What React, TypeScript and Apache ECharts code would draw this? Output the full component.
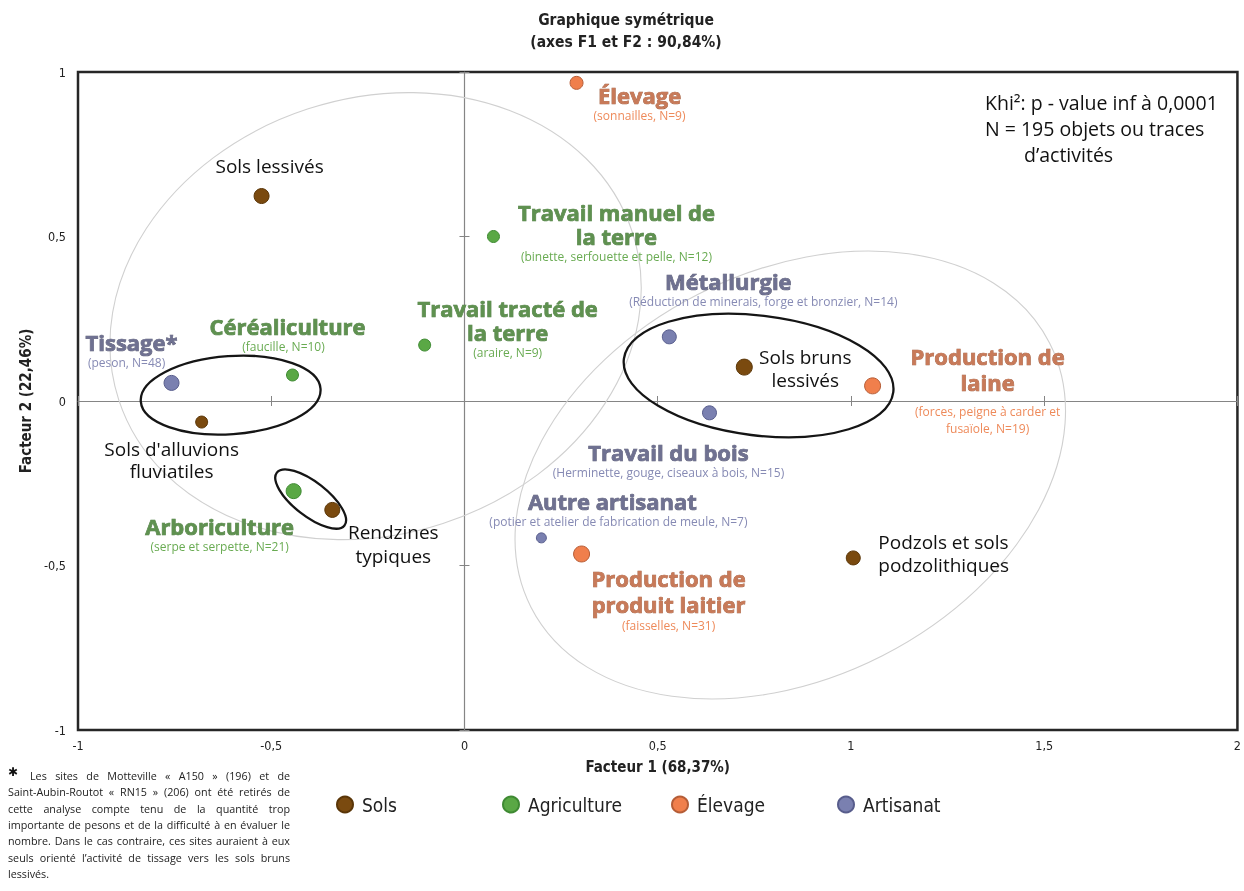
import React, { useEffect, useRef } from 'react';
import * as echarts from 'echarts';

// ---------- DATA ----------
const groupNames = ['Sols', 'Agriculture', 'Élevage', 'Artisanat'];

const solsNames = ['Sols lessivés', "Sols d'alluvions\nfluviatiles", 'Rendzines\ntypiques', 'Sols bruns\nlessivés', 'Podzols et sols\npodzolithiques'];
const solsF1 = [-0.525, -0.68, -0.342, 0.724, 1.006];
const solsF2 = [0.623, -0.064, -0.331, 0.103, -0.477];

const agriNames = ['Céréaliculture', 'Arboriculture', 'Travail tracté de\nla terre', 'Travail manuel de\nla terre'];
const agriDetails = ['(faucille, N=10)', '(serpe et serpette, N=21)', '(araire, N=9)', '(binette, serfouette et pelle, N=12)'];
const agriF1 = [-0.445, -0.442, -0.103, 0.075];
const agriF2 = [0.079, -0.274, 0.17, 0.5];

const elevNames = ['Élevage', 'Production de\nlaine', 'Production de\nproduit laitier'];
const elevDetails = ['(sonnailles, N=9)', '(forces, peigne à carder et\nfusaïole, N=19)', '(faisselles, N=31)'];
const elevF1 = [0.29, 1.056, 0.303];
const elevF2 = [0.967, 0.046, -0.465];

const artiNames = ['Tissage*', 'Métallurgie', 'Travail du bois', 'Autre artisanat'];
const artiDetails = ['(peson, N=48)', '(Réduction de minerais, forge et bronzier, N=14)', '(Herminette, gouge, ciseaux à bois, N=15)', '(potier et atelier de fabrication de meule, N=7)'];
const artiF1 = [-0.758, 0.53, 0.634, 0.199];
const artiF2 = [0.055, 0.195, -0.036, -0.416];

// ellipses (centre in F1/F2, semi-axes in F1 units, rotation in degrees)
const ellipseF1 = [-0.23, 0.843, -0.605, -0.398, 0.761];
const ellipseF2 = [0.258, -0.225, 0.018, -0.298, 0.0775];
const ellipseA = [0.699, 0.753, 0.233, 0.111, 0.351];
const ellipseB = [0.564, 0.525, 0.101, 0.044, 0.155];
const ellipseRot = [18, 27, 4, -38, -7];
const ellipseKind = ['zone', 'zone', 'groupe', 'groupe', 'groupe'];

const titleLines = ['Graphique symétrique', '(axes F1 et F2 : 90,84%)'];
const noteLines = ['Khi²: p - value inf à 0,0001', 'N = 195 objets ou traces', 'd’activités'];
const footnoteLines = [
  'Les sites de Motteville « A150 » (196) et de',
  'Saint-Aubin-Routot « RN15 » (206) ont été retirés de',
  'cette analyse compte tenu de la quantité trop',
  'importante de pesons et de la difficulté à en évaluer le',
  'nombre. Dans le cas contraire, ces sites auraient à eux',
  'seuls orienté l’activité de tissage vers les sols bruns',
  'lessivés.',
];
const xAxisName = 'Facteur 1 (68,37%)';
const yAxisName = 'Facteur 2 (22,46%)';

// ---------- STYLES ----------
const COND = "'Liberation Sans Narrow','DejaVu Sans Condensed','Open Sans',sans-serif";
const SANS = "'Open Sans',sans-serif";

const groupStyle: Record<string, any> = {
  Sols: { color: '#7a4a0f', border: '#5a3608' },
  Agriculture: { color: '#5aa845', border: '#3f8a33', title: '#5f9150', titleBorder: '#4b7a3e', sub: '#69ab52' },
  'Élevage': { color: '#f07f4c', border: '#b55d37', title: '#c87a59', titleBorder: '#9c5839', sub: '#ee8a5a' },
  Artisanat: { color: '#7a80b0', border: '#585d8c', title: '#6f7191', titleBorder: '#56576f', sub: '#868ab4' },
};

const markerSize: Record<string, number> = {
  'Sols lessivés': 15, "Sols d'alluvions\nfluviatiles": 12, 'Rendzines\ntypiques': 15, 'Sols bruns\nlessivés': 16, 'Podzols et sols\npodzolithiques': 14,
  'Céréaliculture': 12, 'Arboriculture': 15, 'Travail tracté de\nla terre': 12, 'Travail manuel de\nla terre': 12,
  'Élevage': 13, 'Production de\nlaine': 16, 'Production de\nproduit laitier': 16,
  'Tissage*': 15, 'Métallurgie': 14, 'Travail du bois': 14, 'Autre artisanat': 10,
};

// label block placement: offset from marker centre to block (top, centre) in px
const place: Record<string, any> = {
  'Sols lessivés': { dx: 8, dy: -42 },
  "Sols d'alluvions\nfluviatiles": { dx: -30, dy: 16, lh: 22 },
  'Rendzines\ntypiques': { dx: 61, dy: 10, lh: 24 },
  'Sols bruns\nlessivés': { dx: 61, dy: -22 },
  'Podzols et sols\npodzolithiques': { dx: 25, dy: -27, align: 'left' },
  'Céréaliculture': { dx: -5, dy: -61, subPad: 8 },
  'Arboriculture': { dx: -74, dy: 23 },
  'Travail tracté de\nla terre': { dx: 83, dy: -49 },
  'Travail manuel de\nla terre': { dx: 123, dy: -37 },
  'Élevage': { dx: 63, dy: 0 },
  'Production de\nlaine': { dx: 115, dy: -43, tlh: 26, gap: 8 },
  'Production de\nproduit laitier': { dx: 87, dy: 11, tlh: 26 },
  'Tissage*': { dx: -40, dy: -53, subPad: 10 },
  'Métallurgie': { dx: 94, dy: -68, titlePad: 70 },
  'Travail du bois': { dx: -41, dy: 27 },
  'Autre artisanat': { dx: 77, dy: -49, titlePad: 12 },
};

function makeLabel(name: string, detail: string | null, group: string) {
  const p = place[name];
  const g = groupStyle[group];
  const base = {
    show: true,
    position: 'inside',
    offset: [p.dx, p.dy],
    align: p.align || 'center',
    verticalAlign: 'top',
  };
  if (detail === null) {
    return {
      ...base,
      formatter: name.split('\n').map((l) => `{b|${l}}`).join('\n'),
      rich: { b: { fontFamily: SANS, fontSize: 19, color: '#111', lineHeight: p.lh || 23 } },
    };
  }
  const lines = name.split('\n').map((l) => `{t|${l}}`);
  if (p.gap) lines.push('{g| }');
  detail.split('\n').forEach((l) => lines.push(`{s|${l}}`));
  return {
    ...base,
    formatter: lines.join('\n'),
    rich: {
      t: {
        fontFamily: SANS, fontWeight: 'bold', fontSize: 22, color: g.title,
        textBorderColor: g.titleBorder, textBorderWidth: 0.7, lineHeight: p.tlh || 24,
        padding: [0, p.titlePad || 0, 0, 0],
      },
      s: { fontFamily: SANS, fontSize: 12, color: g.sub, lineHeight: 17, padding: [0, p.subPad || 0, 0, 0] },
      g: { fontSize: 1, lineHeight: p.gap || 0 },
    },
  };
}

function scatterSeries(group: string, names: string[], f1: number[], f2: number[], details: string[] | null) {
  const g = groupStyle[group];
  return {
    type: 'scatter',
    name: group,
    z: 4,
    itemStyle: { color: g.color, borderColor: g.border, borderWidth: 1, opacity: 1 },
    emphasis: { disabled: true },
    data: names.map((n, i) => ({
      name: n,
      value: [f1[i], f2[i]],
      symbolSize: markerSize[n],
      label: makeLabel(n, details ? details[i] : null, group),
    })),
  };
}

const fmt = (v: number) => String(v).replace('.', ',');

export default function App() {
  const ref = useRef<HTMLDivElement>(null);
  useEffect(() => {
    const el = ref.current!;
    const chart = echarts.init(el, null, { renderer: 'svg' });

    // footnote, justified
    const ctx = document.createElement('canvas').getContext('2d')!;
    const x0 = 8, x1 = 290, firstIndent = 22;
    let fs = 12;
    const widthOf = (s: string) => { ctx.font = `${fs}px "Open Sans"`; return ctx.measureText(s).width; };
    for (let k = 0; k < 20; k++) {
      const over = footnoteLines.slice(0, 6).some((l, i) => widthOf(l) > (x1 - (i === 0 ? x0 + firstIndent : x0)) - 6);
      if (!over) break;
      fs -= 0.25;
    }
    const footEls: any[] = [];
    const fStyle = { fontFamily: 'Open Sans', fontSize: fs, fill: '#222' };
    footnoteLines.forEach((line, i) => {
      const y = 776 + i * 16.3;
      const start = i === 0 ? x0 + firstIndent : x0;
      if (i === footnoteLines.length - 1) {
        footEls.push({ type: 'text', x: start, y, style: { ...fStyle, text: line, verticalAlign: 'middle', textVerticalAlign: 'middle' } });
        return;
      }
      const words = line.split(' ');
      const ws = words.map(widthOf);
      const total = ws.reduce((a, b) => a + b, 0);
      const gap = (x1 - start - total) / (words.length - 1);
      let x = start;
      words.forEach((w, j) => {
        footEls.push({ type: 'text', x, y, style: { ...fStyle, text: w, verticalAlign: 'middle', textVerticalAlign: 'middle' } });
        x += ws[j] + gap;
      });
    });
    footEls.push({ type: 'text', x: 8, y: 772, style: { text: '✱', fontFamily: 'DejaVu Sans', fontSize: 12, fontWeight: 'bold', fill: '#111', verticalAlign: 'middle', textVerticalAlign: 'middle' } });

    const legendLeft = [336, 502, 671, 837];

    const zeroAxis = (dim: 'x' | 'y', inside: boolean, showLine: boolean) => ({
      type: 'value', min: -1, max: 1 + (dim === 'x' ? 1 : 0), interval: 0.5,
      position: dim === 'x' ? 'bottom' : 'left',
      axisLine: { show: true, onZero: true, lineStyle: { color: showLine ? '#858585' : 'rgba(0,0,0,0)', width: 1.2 } },
      axisTick: { show: true, inside, length: 5, lineStyle: { color: '#858585', width: 1 } },
      axisLabel: { show: false },
      splitLine: { show: false },
    });

    const option: any = {
      animation: false,
      grid: { left: 78, right: 6, top: 72, bottom: 161, show: true, borderColor: '#262626', borderWidth: 2.5, backgroundColor: 'rgba(0,0,0,0)' },
      xAxis: [
        {
          type: 'value', min: -1, max: 2, interval: 0.5, position: 'bottom',
          axisLine: { show: false, onZero: false }, axisTick: { show: false }, splitLine: { show: false },
          axisLabel: { margin: 9, formatter: fmt, fontFamily: COND, fontSize: 12.5, color: '#222' },
          name: xAxisName, nameLocation: 'middle', nameGap: 29,
          nameTextStyle: { fontFamily: COND, fontWeight: 'bold', fontSize: 15, color: '#222' },
        },
        zeroAxis('x', true, true),
        zeroAxis('x', false, false),
      ],
      yAxis: [
        {
          type: 'value', min: -1, max: 1, interval: 0.5, position: 'left',
          axisLine: { show: false, onZero: false }, axisTick: { show: false }, splitLine: { show: false },
          axisLabel: { margin: 12, formatter: fmt, fontFamily: COND, fontSize: 12.5, color: '#222' },
          name: yAxisName, nameLocation: 'middle', nameGap: 28,
          nameTextStyle: { fontFamily: COND, fontWeight: 'bold', fontSize: 15, color: '#222' },
        },
        zeroAxis('y', true, true),
        zeroAxis('y', false, false),
      ],
      legend: groupNames.map((g, i) => ({
        data: [g], left: legendLeft[i], top: 795, icon: 'circle', itemWidth: 16, itemHeight: 16,
        selectedMode: false, padding: 0,
        textStyle: { fontFamily: COND, fontSize: 19, color: '#222', padding: [0, 0, 0, 4] },
      })),
      graphic: [
        ...titleLines.map((t, i) => ({
          type: 'text', x: 626, y: 20 + i * 22,
          style: { text: t, fontFamily: COND, fontWeight: 'bold', fontSize: 15.5, fill: '#222', align: 'center', textAlign: 'center', verticalAlign: 'middle', textVerticalAlign: 'middle' },
        })),
        ...noteLines.map((t, i) => ({
          type: 'text', x: i === 2 ? 1024 : 985, y: 102 + i * 26,
          style: { text: t, fontFamily: SANS, fontSize: 19.5, fill: '#111', verticalAlign: 'middle', textVerticalAlign: 'middle' },
        })),
        ...footEls,
      ],
      series: [
        {
          type: 'custom', silent: true, z: 2, xAxisIndex: 0, yAxisIndex: 0,
          encode: { x: 0, y: 1 },
          renderItem: (_params: any, api: any) => {
            const c = api.coord([api.value(0), api.value(1)]);
            const rx = api.size([api.value(2), 0])[0];
            const ry = api.size([api.value(3), 0])[0];
            const zone = api.value(5) === 0;
            return {
              type: 'ellipse', x: c[0], y: c[1], rotation: (api.value(4) * Math.PI) / 180,
              shape: { cx: 0, cy: 0, rx, ry },
              style: { fill: 'none', stroke: zone ? '#d0d0d0' : '#151515', lineWidth: zone ? 1.1 : 2.3 },
            };
          },
          data: ellipseF1.map((x, i) => [x, ellipseF2[i], ellipseA[i], ellipseB[i], ellipseRot[i], ellipseKind[i] === 'zone' ? 0 : 1]),
        },
        scatterSeries('Sols', solsNames, solsF1, solsF2, null),
        scatterSeries('Agriculture', agriNames, agriF1, agriF2, agriDetails),
        scatterSeries('Élevage', elevNames, elevF1, elevF2, elevDetails),
        scatterSeries('Artisanat', artiNames, artiF1, artiF2, artiDetails),
      ],
    };
    chart.setOption(option);
    return () => chart.dispose();
  }, []);
  return <div ref={ref} style={{ position: 'fixed', left: 0, top: 0, width: 1244, height: 891 }} />;
}
